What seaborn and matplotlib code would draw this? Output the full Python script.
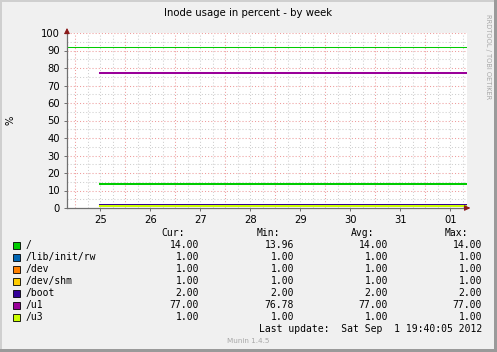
import numpy as np
import pandas as pd
import matplotlib.pyplot as plt
import matplotlib.patches as mpatches
import seaborn as sns

# days shown on the x axis (label positions, noon of each day)
day_labels = ['25', '26', '27', '28', '29', '30', '31', '01']
# time samples (days since noon of the 25th)
days = [0.0, 7.34]

fields = ['/', '/lib/init/rw', '/dev', '/dev/shm', '/boot', '/u1', '/u3']
colors = ['#00CC00', '#0066B3', '#FF8000', '#FFCC00', '#330099', '#990099', '#CCFF00']
cur = [14.00, 1.00, 1.00, 1.00, 2.00, 77.00, 1.00]
mins = [13.96, 1.00, 1.00, 1.00, 2.00, 76.78, 1.00]
avgs = [14.00, 1.00, 1.00, 1.00, 2.00, 77.00, 1.00]
maxs = [14.00, 1.00, 1.00, 1.00, 2.00, 77.00, 1.00]
warning = 92

rows = []
for f, v in zip(fields, cur):
    for d in days:
        rows.append({'day': d, 'field': f, 'value': v})
df = pd.DataFrame(rows)

W, H = 497, 352
fig = plt.figure(figsize=(W / 100, H / 100), dpi=100)
fig.patch.set_facecolor('#F0F0F0')

# plot area: 400x175 px like rrdtool
L, T, PW, PH = 67, 33, 400, 175
ax = fig.add_axes([L / W, 1 - (T + PH) / H, PW / W, PH / H])
ax.set_facecolor('white')

# grid
for x in np.arange(-0.5, 7.4, 0.25):
    major = abs((x + 0.5) % 1) < 1e-6
    ax.axvline(x, color='#EE9C9C' if major else '#CFCFCF', lw=0.75,
               ls=(0, (1, 2)), zorder=0)
for y in range(5, 101, 5):
    ax.axhline(y, color='#EE9C9C' if y % 10 == 0 else '#CFCFCF', lw=0.75,
               ls=(0, (1, 2)), zorder=0)

ax.axhline(warning, color='#00CC00', lw=0.75, zorder=1)

sns.lineplot(data=df, x='day', y='value', hue='field', hue_order=fields,
             palette=colors, lw=1.45, legend=False, ax=ax, zorder=2)

ax.set_xlim(-0.666, 7.334)
ax.set_ylim(0, 100)
ax.set_xticks(range(len(day_labels)))
ax.set_xticklabels(day_labels)
ax.set_yticks(range(0, 101, 10))
ax.set_xlabel('')
ax.set_ylabel('')
for s in ['top', 'right']:
    ax.spines[s].set_visible(False)
for s in ['left', 'bottom']:
    ax.spines[s].set_color('#707070')
    ax.spines[s].set_linewidth(0.9)
ax.tick_params(axis='both', labelsize=7.2, colors='#707070', labelcolor='black',
               length=2, width=0.7, pad=3)

# axis arrows
ax.annotate('', xy=(0, 1.045), xytext=(0, 0.99), xycoords='axes fraction',
            arrowprops=dict(arrowstyle='-|>', color='#8B1A1A', lw=0.8,
                            mutation_scale=8), annotation_clip=False)
ax.annotate('', xy=(1.015, 0), xytext=(0.995, 0), xycoords='axes fraction',
            arrowprops=dict(arrowstyle='-|>', color='#8B1A1A', lw=0.8,
                            mutation_scale=8), annotation_clip=False)

def fx(px):
    return px / W

def fy(py):
    return 1 - py / H

fig.text(fx(248), fy(13), 'Inode usage in percent - by week', ha='center',
         va='center', fontsize=7.3, color='black')
fig.text(fx(10), fy(120), '%', rotation=90, ha='center', va='center',
         fontsize=7.2)
fig.text(fx(488), fy(57), 'RRDTOOL / TOBI OETIKER', rotation=-90, ha='center',
         va='center', fontsize=4.8, color='#A8A8A8')

mono = 'DejaVu Sans Mono'
fs = 7
hdr_y = 233
fig.text(fx(185), fy(hdr_y), 'Cur:', ha='right', va='center', family=mono, fontsize=fs)
fig.text(fx(280), fy(hdr_y), 'Min:', ha='right', va='center', family=mono, fontsize=fs)
fig.text(fx(374), fy(hdr_y), 'Avg:', ha='right', va='center', family=mono, fontsize=fs)
fig.text(fx(468), fy(hdr_y), 'Max:', ha='right', va='center', family=mono, fontsize=fs)

for i, f in enumerate(fields):
    yy = 245 + 12 * i
    fig.patches.append(mpatches.Rectangle((fx(13), fy(yy + 3.5)), 7 / W, 7 / H,
                                          transform=fig.transFigure,
                                          facecolor=colors[i], edgecolor='black',
                                          lw=0.6))
    fig.text(fx(26), fy(yy), f, ha='left', va='center', family=mono, fontsize=fs)
    fig.text(fx(199), fy(yy), f'{cur[i]:.2f}', ha='right', va='center', family=mono, fontsize=fs)
    fig.text(fx(294), fy(yy), f'{mins[i]:.2f}', ha='right', va='center', family=mono, fontsize=fs)
    fig.text(fx(388), fy(yy), f'{avgs[i]:.2f}', ha='right', va='center', family=mono, fontsize=fs)
    fig.text(fx(482), fy(yy), f'{maxs[i]:.2f}', ha='right', va='center', family=mono, fontsize=fs)

fig.text(fx(482), fy(329), 'Last update:  Sat Sep  1 19:40:05 2012', ha='right',
         va='center', family=mono, fontsize=fs)
fig.text(fx(248), fy(341), 'Munin 1.4.5', ha='center', va='center',
         fontsize=5.2, color='#A8A8A8')

# frame: light top/left, dark bottom/right
fig.patches.append(mpatches.Rectangle((0, 0), 2 / W, 1, transform=fig.transFigure,
                                      facecolor='#CFCFCF', lw=0))
fig.patches.append(mpatches.Rectangle((0, 1 - 2 / H), 1, 2 / H, transform=fig.transFigure,
                                      facecolor='#CFCFCF', lw=0))
fig.patches.append(mpatches.Rectangle((1 - 3 / W, 0), 3 / W, 1, transform=fig.transFigure,
                                      facecolor='#9A9A9A', lw=0))
fig.patches.append(mpatches.Rectangle((0, 0), 1, 3 / H, transform=fig.transFigure,
                                      facecolor='#9A9A9A', lw=0))

fig.savefig('out.png', dpi=100, facecolor=fig.get_facecolor())
